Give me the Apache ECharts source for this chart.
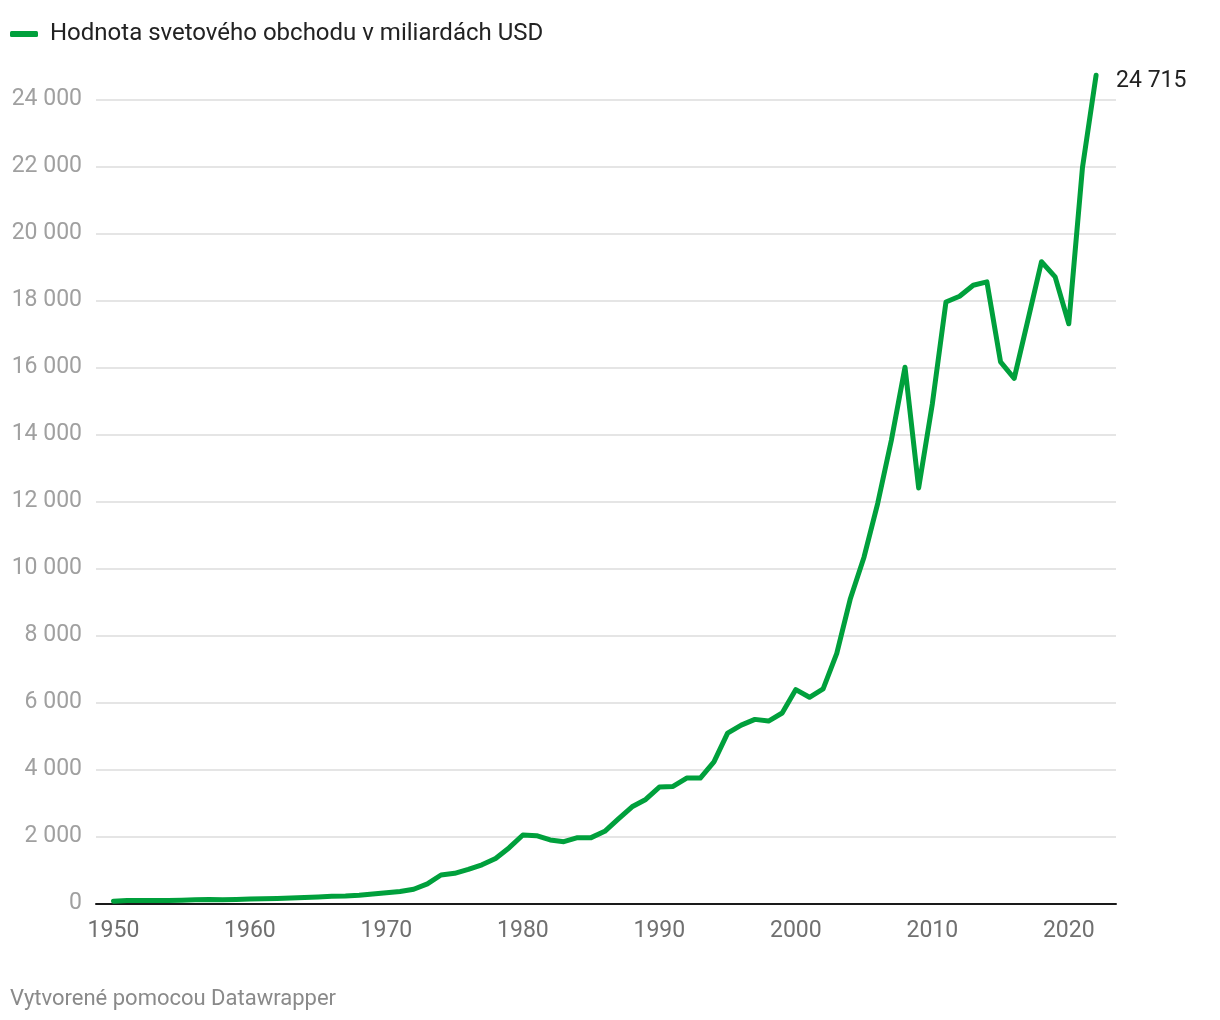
<!DOCTYPE html>
<html>
<head>
<meta charset="utf-8">
<script src="https://cdn.jsdelivr.net/npm/echarts@6/dist/echarts.min.js"></script>
<style>
html,body{margin:0;padding:0;background:#fff;}
#chart{width:1220px;height:1020px;}
</style>
</head>
<body>
<div id="chart"></div>
<script>
const seriesName = 'Hodnota svetového obchodu v miliardách USD';
const years = [1950,1951,1952,1953,1954,1955,1956,1957,1958,1959,
  1960,1961,1962,1963,1964,1965,1966,1967,1968,1969,
  1970,1971,1972,1973,1974,1975,1976,1977,1978,1979,
  1980,1981,1982,1983,1984,1985,1986,1987,1988,1989,
  1990,1991,1992,1993,1994,1995,1996,1997,1998,1999,
  2000,2001,2002,2003,2004,2005,2006,2007,2008,2009,
  2010,2011,2012,2013,2014,2015,2016,2017,2018,2019,
  2020,2021,2022];
const tradeValues = [62,84,80,83,86,94,104,112,108,116,
  130,135,142,157,176,190,209,219,243,278,
  318,354,420,580,845,895,1010,1150,1340,1660,
  2040,2020,1890,1840,1960,1960,2150,2520,2880,3100,
  3470,3490,3740,3740,4220,5080,5320,5490,5440,5680,
  6380,6150,6400,7460,9100,10340,11940,13820,16000,12400,
  14900,17950,18120,18450,18550,16160,15670,17400,19150,18700,
  17300,21950,24715];
const xTickLabels = [1950,1960,1970,1980,1990,2000,2010,2020];
const footerText = 'Vytvorené pomocou Datawrapper';

const fmt = v => String(v).replace(/\B(?=(\d{3})+(?!\d))/g, ' ');
const FONT = 'Roboto, "Noto Sans", sans-serif';
const GREEN = '#00a03c';

const chart = echarts.init(document.getElementById('chart'), null, {renderer: 'canvas'});
chart.setOption({
  animation: false,
  backgroundColor: '#ffffff',
  textStyle: {fontFamily: FONT},
  title: {
    text: footerText,
    left: 10,
    top: 988,
    padding: 0,
    textStyle: {fontFamily: FONT, fontSize: 22, fontWeight: 'normal', color: '#8a8a8a'}
  },
  legend: {
    left: 10,
    top: 22,
    padding: 0,
    itemWidth: 28,
    itemHeight: 6,
    icon: 'roundRect',
    data: [{name: seriesName, itemStyle: {color: GREEN}}],
    textStyle: {fontFamily: FONT, fontSize: 24, color: '#222', padding: [0, 0, 0, 7]}
  },
  grid: {left: 96, right: 104, top: 99.3, bottom: 116.7, containLabel: false},
  xAxis: {
    type: 'value',
    min: 1948.72,
    max: 2023.46,
    axisLine: {show: true, lineStyle: {color: '#1a1a1a', width: 2}},
    axisTick: {show: false},
    splitLine: {show: false},
    axisLabel: {
      customValues: xTickLabels,
      formatter: v => String(v),
      fontFamily: FONT, fontSize: 23, color: '#707070', margin: 16
    }
  },
  yAxis: {
    type: 'value',
    min: 0,
    max: 24000,
    interval: 2000,
    axisLine: {show: false},
    axisTick: {show: false},
    splitLine: {show: true, lineStyle: {color: '#e5e5e5', width: 2}},
    axisLabel: {
      formatter: v => fmt(v),
      fontFamily: FONT, fontSize: 23, color: '#a0a0a0', margin: 14
    }
  },
  series: [{
    name: seriesName,
    type: 'line',
    data: years.map((y, i) => [y, tradeValues[i]]),
    showSymbol: false,
    symbol: 'none',
    clip: false,
    lineStyle: {color: GREEN, width: 5, cap: 'round', join: 'round'},
    itemStyle: {color: GREEN},
    endLabel: {
      show: true,
      formatter: p => fmt(p.value[1]),
      distance: 20,
      offset: [0, 6],
      fontFamily: FONT, fontSize: 23, color: '#222'
    }
  }]
});
</script>
</body>
</html>
